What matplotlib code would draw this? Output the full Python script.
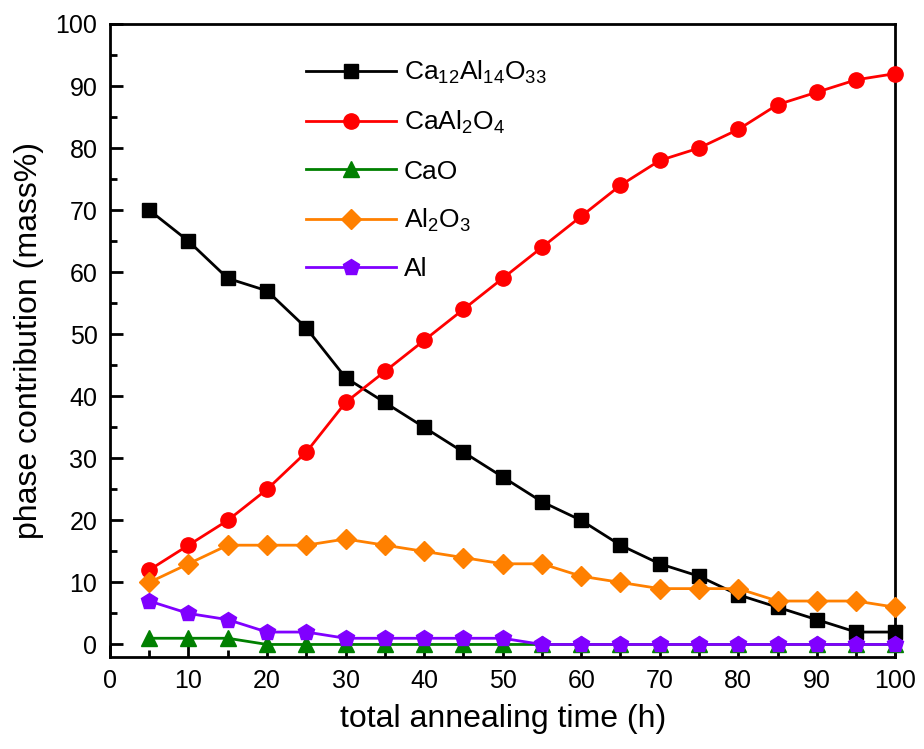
import matplotlib
matplotlib.use("Agg")
import matplotlib.pyplot as plt
from matplotlib.ticker import MultipleLocator

plt.rcParams['font.family'] = ['Liberation Sans', 'DejaVu Sans']
plt.rcParams['mathtext.fontset'] = 'custom'
plt.rcParams['mathtext.rm'] = 'Liberation Sans'
plt.rcParams['mathtext.default'] = 'regular'

# annealing times (h)
time_h = [5, 10, 15, 20, 25, 30, 35, 40, 45, 50, 55, 60, 65, 70, 75, 80, 85, 90, 95, 100]

# phase contents (mass%)
ca12al14o33 = [70, 65, 59, 57, 51, 43, 39, 35, 31, 27, 23, 20, 16, 13, 11, 8, 6, 4, 2, 2]
caal2o4 = [12, 16, 20, 25, 31, 39, 44, 49, 54, 59, 64, 69, 74, 78, 80, 83, 87, 89, 91, 92]
cao = [1, 1, 1, 0, 0, 0, 0, 0, 0, 0, 0, 0, 0, 0, 0, 0, 0, 0, 0, 0]
al2o3 = [10, 13, 16, 16, 16, 17, 16, 15, 14, 13, 13, 11, 10, 9, 9, 9, 7, 7, 7, 6]
al = [7, 5, 4, 2, 2, 1, 1, 1, 1, 1, 0, 0, 0, 0, 0, 0, 0, 0, 0, 0]

series = [
    (ca12al14o33, r'Ca$_{12}$Al$_{14}$O$_{33}$', 'black', 's', 10),
    (caal2o4, r'CaAl$_{2}$O$_{4}$', '#ff0000', 'o', 11),
    (cao, 'CaO', '#008000', '^', 11),
    (al2o3, r'Al$_{2}$O$_{3}$', '#ff8000', 'D', 10),
    (al, 'Al', '#8000ff', 'p', 12),
]

fig = plt.figure(figsize=(9.24, 7.49), dpi=100)
ax = fig.add_axes([0.119, 0.123, 0.85, 0.845])

for vals, name, color, marker, ms in series:
    ax.plot(time_h, vals, color=color, marker=marker, markersize=ms,
            linewidth=2, label=name, clip_on=False, zorder=3)

ax.set_xlim(0, 100)
ax.set_ylim(-2, 100)
ax.xaxis.set_major_locator(MultipleLocator(10))
ax.xaxis.set_minor_locator(MultipleLocator(5))
ax.yaxis.set_major_locator(MultipleLocator(10))
ax.yaxis.set_minor_locator(MultipleLocator(5))
ax.tick_params(which='both', direction='in', width=2, labelsize=18)
ax.tick_params(which='major', length=9, pad=9)
ax.tick_params(which='minor', length=5)
for sp in ax.spines.values():
    sp.set_linewidth(2)

ax.set_xlabel('total annealing time (h)', fontsize=23, labelpad=8)
ax.set_ylabel('phase contribution (mass%)', fontsize=23, labelpad=8)

ax.legend(loc='upper left', bbox_to_anchor=(0.23, 0.97), frameon=False,
          fontsize=19, handlelength=3.4, labelspacing=0.88, handletextpad=0.3,
          borderaxespad=0.2)

fig.savefig('out.png', dpi=100)
